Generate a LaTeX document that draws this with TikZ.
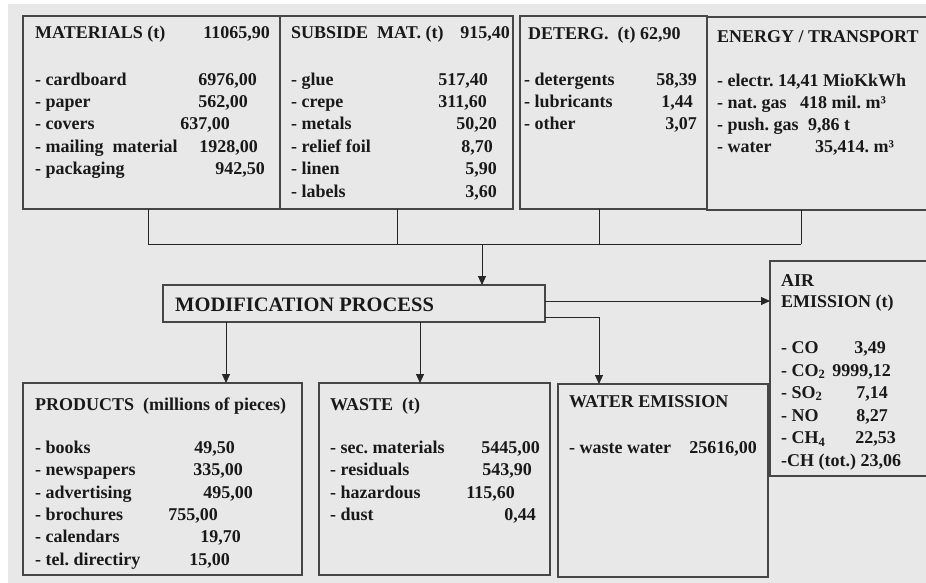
\documentclass[tikz,border=0pt]{standalone}
\usepackage{fontspec}
\setmainfont{Liberation Serif}
\usetikzlibrary{arrows.meta}
\definecolor{bgray}{RGB}{232,232,232}
\definecolor{lgray}{RGB}{70,70,70}

\begin{document}
\frenchspacing
\begin{tikzpicture}[x=1pt,y=-1pt,
  box/.style={draw=lgray, line width=1.1pt, anchor=north west, inner sep=0pt, outer sep=0pt},
  txt/.style={anchor=base west, inner sep=0pt, font=\bfseries\fontsize{18}{22}\selectfont, text=black!90},
  val/.style={txt, anchor=base east},
  con/.style={line width=0.9pt, black!85},
  arr/.style={con, -{Triangle[length=9pt,width=8pt]}}]
\useasboundingbox (0,0) rectangle (926,583);
\clip (0,0) rectangle (926,583);
\fill[bgray] (8,4) rectangle (930,590);

\node[box, minimum width=257pt, minimum height=193pt] (mat) at (23,16) {};
\node[box, minimum width=233pt, minimum height=193pt] (sub) at (280,16) {};
\node[box, minimum width=187pt, minimum height=193pt] (det) at (520,16) {};
\node[box, minimum width=240pt, minimum height=193pt] (ene) at (707,17) {};
\node[box, minimum width=382pt, minimum height=37pt] (proc) at (163,285) {};
\node[box, minimum width=279pt, minimum height=192pt] (prod) at (23,383) {};
\node[box, minimum width=231pt, minimum height=192pt] (wst) at (319,383) {};
\node[box, minimum width=210pt, minimum height=193pt] (wat) at (558,384) {};
\node[box, minimum width=180pt, minimum height=215pt] (air) at (770,261) {};

% materials
\node[txt] (mat0) at (35,39) {MATERIALS (t)}; \node[val] (mat0v) at (270,39) {11065,90};
\node[txt] (mat1) at (35,86) {- cardboard}; \node[val] (mat1v) at (257,86) {6976,00};
\node[txt] (mat2) at (35,108) {- paper}; \node[val] (mat2v) at (248,108) {562,00};
\node[txt] (mat3) at (35,130) {- covers}; \node[val] (mat3v) at (230,130) {637,00};
\node[txt] (mat4) at (35,152.5) {- mailing\ \ material}; \node[val] (mat4v) at (258,152.5) {1928,00};
\node[txt] (mat5) at (35,175) {- packaging}; \node[val] (mat5v) at (265,175) {942,50};

\node[txt] (sub0) at (291,39) {SUBSIDE\ \ MAT. (t)}; \node[val] (sub0v) at (510,39) {915,40};
\node[txt] (sub1) at (291,86) {- glue}; \node[val] (sub1v) at (488,86) {517,40};
\node[txt] (sub2) at (291,108) {- crepe}; \node[val] (sub2v) at (487,108) {311,60};
\node[txt] (sub3) at (291,130) {- metals}; \node[val] (sub3v) at (497,130) {50,20};
\node[txt] (sub4) at (291,152.5) {- relief foil}; \node[val] (sub4v) at (493,152.5) {8,70};
\node[txt] (sub5) at (291,175) {- linen}; \node[val] (sub5v) at (497,175) {5,90};
\node[txt] (sub6) at (291,197.5) {- labels}; \node[val] (sub6v) at (497,197.5) {3,60};

\node[txt] (det0) at (528,40) {DETERG.\ \ (t) 62,90};
\node[txt] (det1) at (524,86) {- detergents}; \node[val] (det1v) at (697,86) {58,39};
\node[txt] (det2) at (524,108) {- lubricants}; \node[val] (det2v) at (693,108) {1,44};
\node[txt] (det3) at (524,130) {- other}; \node[val] (det3v) at (697,130) {3,07};

\node[txt] (ene0) at (717,43) {ENERGY / TRANSPORT};
\node[txt] (ene1) at (717,87) {- electr. 14,41 MioKkWh};
\node[txt] (ene2) at (717,108.5) {- nat. gas}; \node[txt] (ene2v) at (800,108.5) {418 mil. m³};
\node[txt] (ene3) at (717,130.5) {- push. gas}; \node[txt] (ene3v) at (808,130.5) {9,86 t};
\node[txt] (ene4) at (717,152.5) {- water}; \node[txt] (ene4v) at (815,152.5) {35,414. m³};

% process
\node[txt, font=\bfseries\fontsize{20.5}{24}\selectfont] (proc0) at (175,311) {MODIFICATION PROCESS};

\node[txt] (air0) at (781,286) {AIR};
\node[txt] (air1) at (781,307) {EMISSION (t)};
\node[txt] (air2) at (781,353) {- CO}; \node[val] (air2v) at (886,353) {3,49};
\node[txt] (air3) at (781,376) {- CO\textsubscript{2}}; \node[val] (air3v) at (891,376) {9999,12};
\node[txt] (air4) at (781,398) {- SO\textsubscript{2}}; \node[val] (air4v) at (888,398) {7,14};
\node[txt] (air5) at (781,421) {- NO}; \node[val] (air5v) at (888,421) {8,27};
\node[txt] (air6) at (781,443.5) {- CH\textsubscript{4}}; \node[val] (air6v) at (896,443.5) {22,53};
\node[txt] (air7) at (781,466) {-CH (tot.) 23,06};

% outputs
\node[txt] (prod0) at (35,410) {PRODUCTS\ \ (millions of pieces)};
\node[txt] (prod1) at (35,453) {- books}; \node[val] (prod1v) at (235,453) {49,50};
\node[txt] (prod2) at (35,475.5) {- newspapers}; \node[val] (prod2v) at (243,475.5) {335,00};
\node[txt] (prod3) at (35,498) {- advertising}; \node[val] (prod3v) at (253,498) {495,00};
\node[txt] (prod4) at (35,520) {- brochures}; \node[val] (prod4v) at (218,520) {755,00};
\node[txt] (prod5) at (35,542.5) {- calendars}; \node[val] (prod5v) at (241,542.5) {19,70};
\node[txt] (prod6) at (35,565) {- tel. directiry}; \node[val] (prod6v) at (230,565) {15,00};

\node[txt] (wst0) at (330,410) {WASTE\ \ (t)};
\node[txt] (wst1) at (330,453) {- sec. materials}; \node[val] (wst1v) at (540,453) {5445,00};
\node[txt] (wst2) at (330,475.5) {- residuals}; \node[val] (wst2v) at (532,475.5) {543,90};
\node[txt] (wst3) at (330,498) {- hazardous}; \node[val] (wst3v) at (515,498) {115,60};
\node[txt] (wst4) at (330,520) {- dust}; \node[val] (wst4v) at (536,520) {0,44};

\node[txt] (wat0) at (569,407) {WATER EMISSION};
\node[txt] (wat1) at (569,453) {- waste water}; \node[val] (wat1v) at (757,453) {25616,00};

\coordinate (j1) at (148,244);
\coordinate (j2) at (397,244);
\coordinate (j3) at (599,244);
\coordinate (j4) at (801,244);
\coordinate (jin) at (482,244);
\coordinate (o1) at (226,350);
\coordinate (o2) at (420,350);
\coordinate (o3) at (599,350);

\draw[con] (mat.south -| j1) -- (j1);
\draw[con] (sub.south -| j2) -- (j2);
\draw[con] (det.south -| j3) -- (j3);
\draw[con] (ene.south -| j4) -- (j4);
\draw[con] (j1) -- (j4);
\draw[arr] (jin) -- (jin |- proc.north);

\draw[arr] (proc.south -| o1) -- (prod.north -| o1);
\draw[arr] (proc.south -| o2) -- (wst.north -| o2);
\draw[arr] ([yshift=2.5pt]proc.east) -- ([yshift=2.5pt]proc.east -| air.west);
\draw[arr] ([yshift=-13.5pt]proc.east) -| (wat.north -| o3);

\end{tikzpicture}
\end{document}
